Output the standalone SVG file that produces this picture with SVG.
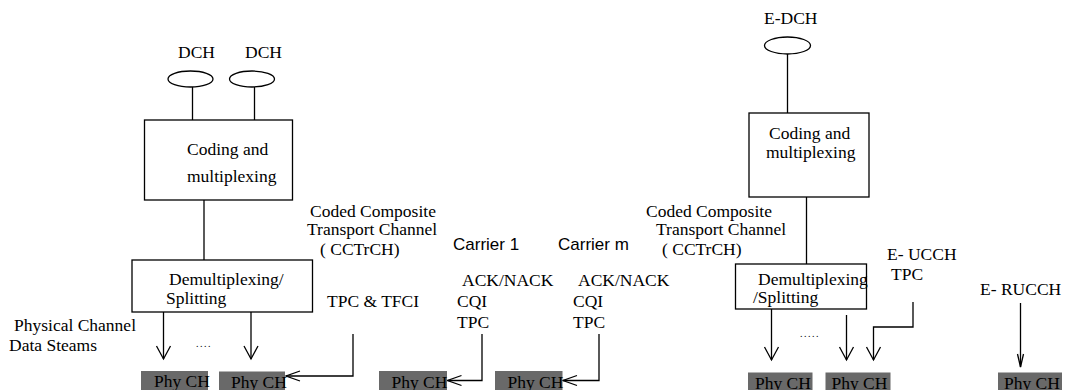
<svg xmlns="http://www.w3.org/2000/svg" width="1065" height="390" viewBox="0 0 1065 390">
<style>
text{font-family:"Liberation Serif","Times New Roman",serif;font-size:17.5px;fill:#000}
.sans{font-family:"Liberation Sans",Arial,sans-serif;font-size:17px}
.box{fill:#fff;stroke:#000;stroke-width:1.3}
.ell{fill:#fff;stroke:#000;stroke-width:1.3}
.phy{fill:#696969;stroke:none}
.ln{fill:none;stroke:#000;stroke-width:1.3}
.dots{font-size:10px;letter-spacing:1.5px}
</style>
<defs>
<marker id="vdown" markerUnits="userSpaceOnUse" markerWidth="16" markerHeight="16" refX="13" refY="7" orient="auto" overflow="visible">
<path d="M0,0 L13,7 L0,14" fill="none" stroke="#000" stroke-width="1.3"/>
</marker>
<marker id="vleft" markerUnits="userSpaceOnUse" markerWidth="16" markerHeight="16" refX="14" refY="5" orient="auto" overflow="visible">
<path d="M0,0 L14,5 L0,10" fill="none" stroke="#000" stroke-width="1.3"/>
</marker>
<marker id="vnarrow" markerUnits="userSpaceOnUse" markerWidth="16" markerHeight="16" refX="13" refY="3" orient="auto" overflow="visible">
<path d="M0,0 L13,3 L0,6" fill="none" stroke="#000" stroke-width="1.3"/>
</marker>
</defs>

<g id="connectors">
<line class="ln" x1="192.5" y1="87" x2="192.5" y2="120"/>
<line class="ln" x1="254.5" y1="87" x2="254.5" y2="120"/>
<line class="ln" x1="204" y1="200" x2="204" y2="260"/>
<line class="ln" x1="163.5" y1="312" x2="163.5" y2="359" marker-end="url(#vdown)"/>
<line class="ln" x1="251" y1="312" x2="251" y2="359" marker-end="url(#vdown)"/>
<polyline class="ln" points="353,334 353,376 286,376" marker-end="url(#vleft)"/>
<polyline class="ln" points="482,334 482,380.5 447.5,380.5" marker-end="url(#vleft)"/>
<polyline class="ln" points="599,334 599,380.5 563,380.5" marker-end="url(#vleft)"/>
<line class="ln" x1="787.5" y1="54" x2="787.5" y2="113"/>
<line class="ln" x1="806.5" y1="197" x2="806.5" y2="264"/>
<line class="ln" x1="771.5" y1="309" x2="771.5" y2="360" marker-end="url(#vdown)"/>
<line class="ln" x1="846.5" y1="315" x2="846.5" y2="360" marker-end="url(#vdown)"/>
<polyline class="ln" points="913,302 913,327 873.5,327 873.5,360" marker-end="url(#vdown)"/>
<line class="ln" x1="1020.5" y1="303" x2="1020.5" y2="367" marker-end="url(#vnarrow)"/>
</g>

<g id="dch1"><ellipse class="ell" cx="190.5" cy="79" rx="22.5" ry="8"/><text x="178" y="58">DCH</text></g>
<g id="dch2"><ellipse class="ell" cx="252" cy="79" rx="22.5" ry="8"/><text x="245" y="58">DCH</text></g>
<g id="coding1"><rect class="box" x="144.5" y="120" width="148" height="80"/><text x="187" y="155">Coding and</text><text x="187" y="182">multiplexing</text></g>
<g id="demux1"><rect class="box" x="132" y="260" width="180.5" height="52"/><text x="169" y="285">Demultiplexing/</text><text x="166" y="304">Splitting</text></g>
<g id="label-physical"><text x="14" y="331">Physical Channel</text><text x="9" y="351">Data Steams</text></g>
<g id="dots1"><text class="dots" x="196" y="347">....</text></g>
<g id="cctrch1"><text x="310" y="217">Coded Composite</text><text x="307" y="235">Transport Channel</text><text x="320" y="255">( CCTrCH)</text></g>
<g id="tpctfci"><text x="327" y="307">TPC &amp; TFCI</text></g>
<g id="carrier1"><text class="sans" x="453" y="250">Carrier 1</text><text x="462" y="286">ACK/NACK</text><text x="457" y="307">CQI</text><text x="457" y="328">TPC</text></g>
<g id="carrierm"><text class="sans" x="558" y="250">Carrier m</text><text x="578" y="286">ACK/NACK</text><text x="573" y="307">CQI</text><text x="573" y="328">TPC</text></g>

<g id="edch"><ellipse class="ell" cx="787.5" cy="45.5" rx="23" ry="8.5"/><text x="764" y="24">E-DCH</text></g>
<g id="coding2"><rect class="box" x="749" y="113" width="120" height="84"/><text x="769" y="139">Coding and</text><text x="766" y="158">multiplexing</text></g>
<g id="cctrch2"><text x="646" y="217">Coded Composite</text><text x="656" y="235">Transport Channel</text><text x="662" y="255">( CCTrCH)</text></g>
<g id="demux2"><rect class="box" x="735.5" y="264" width="131" height="45"/><text x="758" y="285">Demultiplexing</text><text x="753" y="303">/Splitting</text></g>
<g id="dots2"><text class="dots" x="800" y="337">.....</text></g>
<g id="eucch"><text x="887" y="260">E- UCCH</text><text x="891" y="280">TPC</text></g>
<g id="erucch"><text x="980" y="295">E- RUCCH</text></g>

<g id="phy1"><rect class="phy" x="141" y="371" width="67" height="19"/><text x="154" y="387">Phy CH</text></g>
<g id="phy2"><rect class="phy" x="219" y="371.5" width="66" height="18.5"/><text x="231" y="388">Phy CH</text></g>
<g id="phy3"><rect class="phy" x="379" y="371" width="68" height="19"/><text x="391.5" y="388">Phy CH</text></g>
<g id="phy4"><rect class="phy" x="495" y="371" width="67.5" height="19"/><text x="507.5" y="388">Phy CH</text></g>
<g id="phy5"><rect class="phy" x="748" y="372.5" width="64.5" height="17.5"/><text x="755" y="389">Phy CH</text></g>
<g id="phy6"><rect class="phy" x="825.5" y="372.5" width="65" height="17.5"/><text x="831.5" y="389">Phy CH</text></g>
<g id="phy7"><rect class="phy" x="998" y="372.5" width="64" height="17.5"/><text x="1004" y="389">Phy CH</text></g>
</svg>
